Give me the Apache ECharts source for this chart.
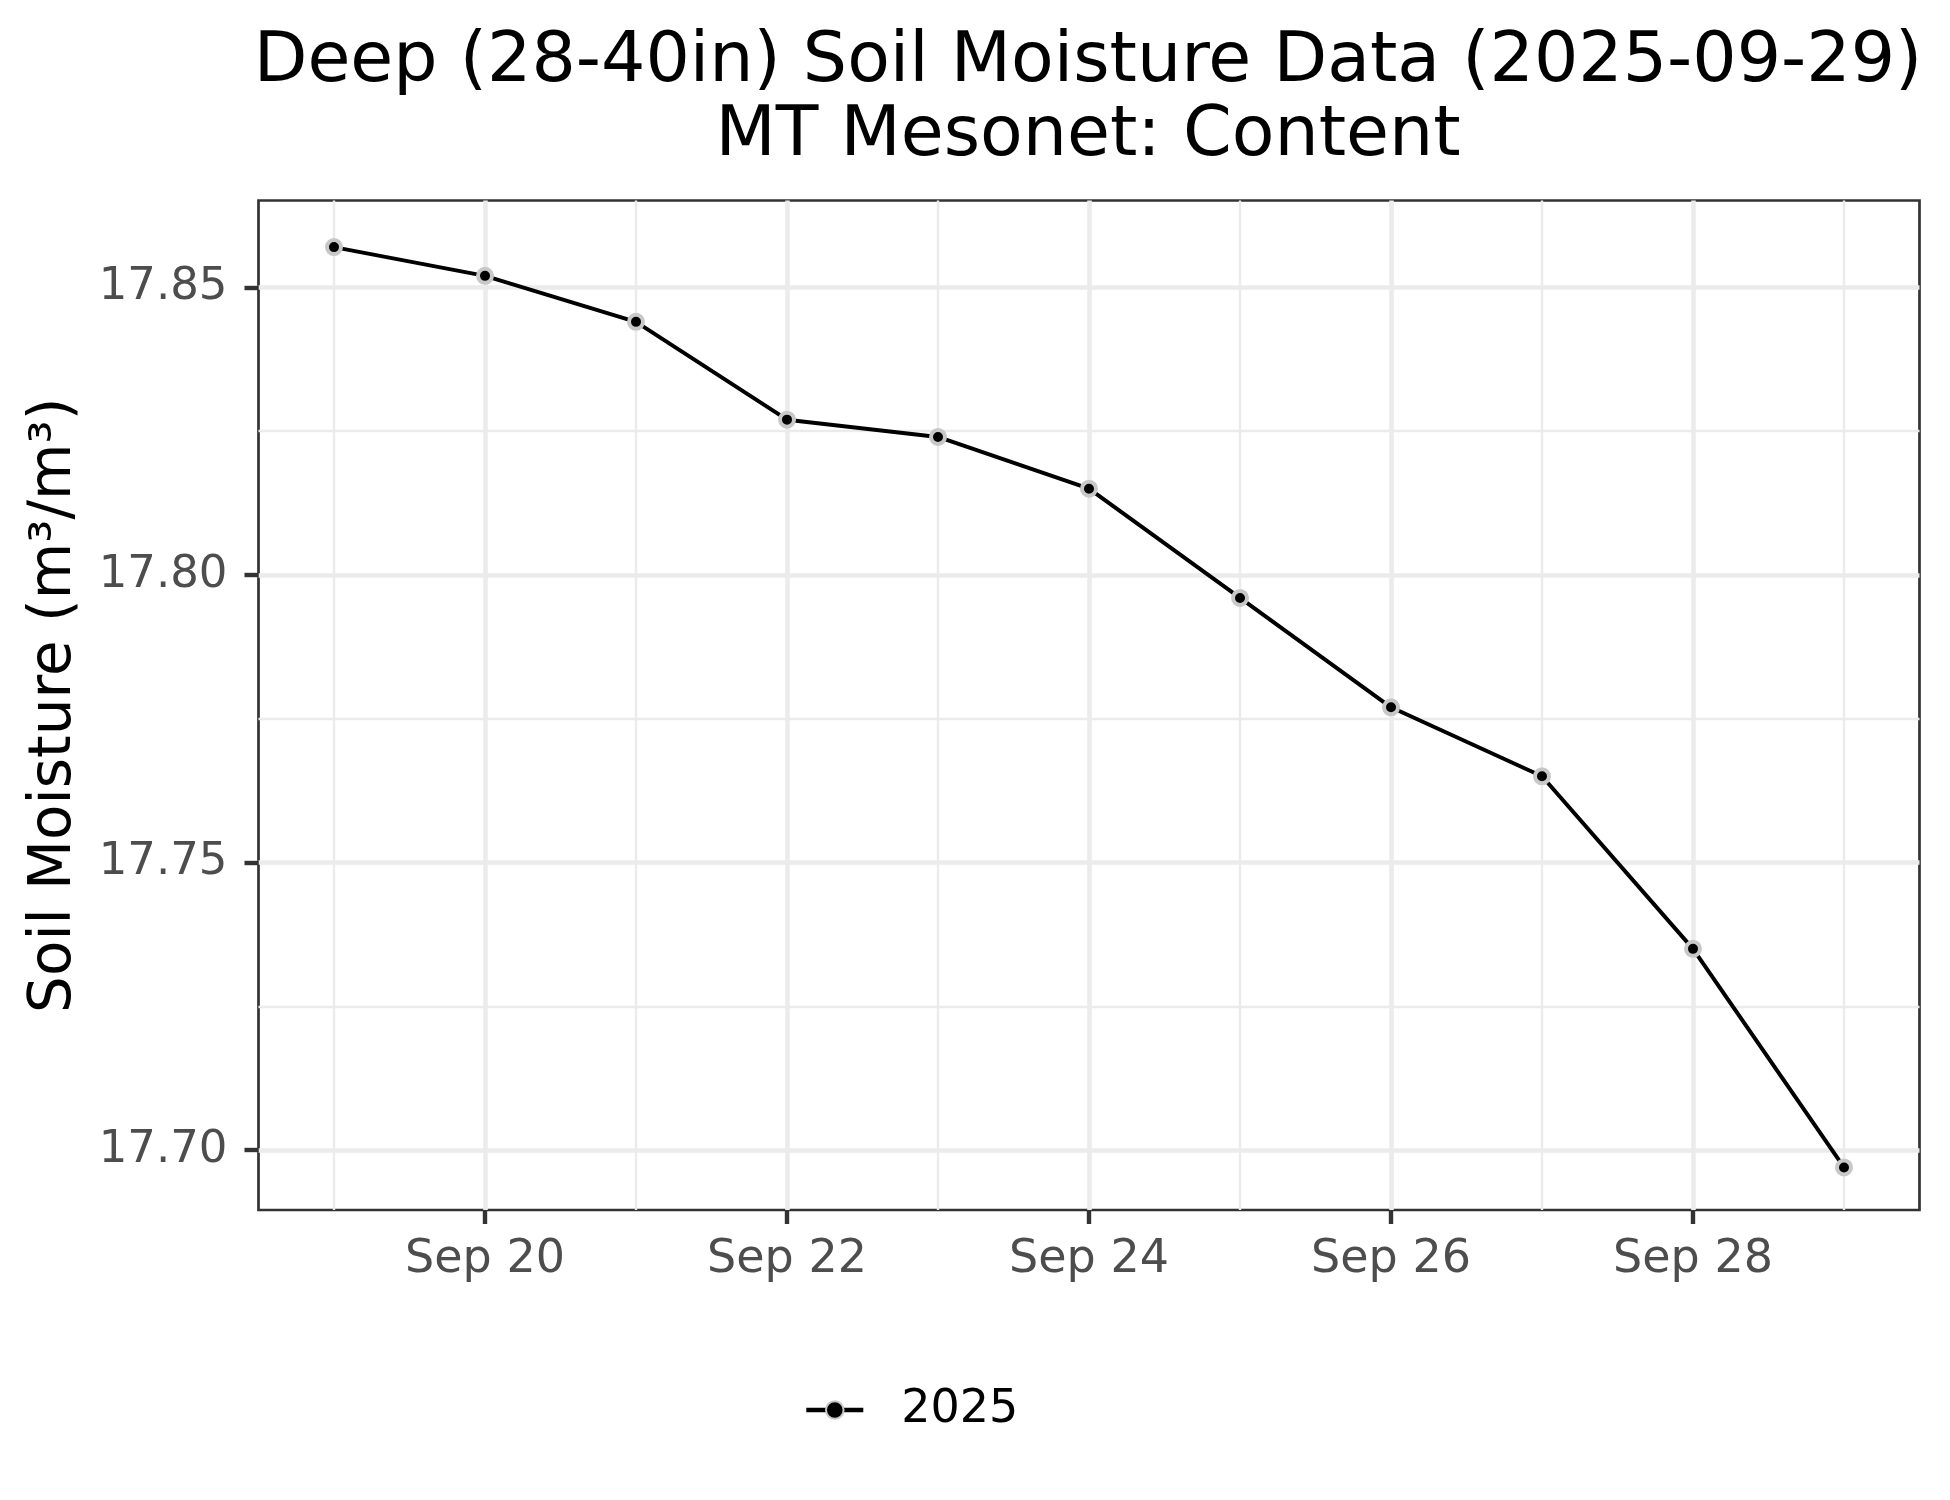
<!DOCTYPE html>
<html>
<head>
<meta charset="utf-8">
<script src="https://cdn.jsdelivr.net/npm/echarts@6/dist/echarts.min.js"></script>
<style>
  html, body { margin: 0; padding: 0; background: #ffffff; }
  #chart { width: 1950px; height: 1500px; }
</style>
</head>
<body>
<div id="chart"></div>
<script>
// ---- data ----
var dates = ['2025-09-19', '2025-09-20', '2025-09-21', '2025-09-22', '2025-09-23', '2025-09-24',
             '2025-09-25', '2025-09-26', '2025-09-27', '2025-09-28', '2025-09-29'];
var moisture = [17.857, 17.852, 17.844, 17.827, 17.824, 17.815, 17.796, 17.777, 17.765, 17.735, 17.697];
var seriesName = '2025';
var xTickDays = [20, 22, 24, 26, 28];
var xTickLabels = ['Sep 20', 'Sep 22', 'Sep 24', 'Sep 26', 'Sep 28'];
var xMinorDays = [19, 21, 23, 25, 27, 29];
var yTickValues = [17.70, 17.75, 17.80, 17.85];
var yTickLabels = ['17.70', '17.75', '17.80', '17.85'];
var yMinorValues = [17.725, 17.775, 17.825];
var titleText = 'Deep (28-40in) Soil Moisture Data (2025-09-29)\nMT Mesonet: Content';
var yAxisTitle = 'Soil Moisture (m\u00b3/m\u00b3)';

// ---- build ----
var points = dates.map(function (d, i) {
  return [parseInt(d.slice(8, 10), 10), moisture[i]];
});
var FONT = 'DejaVu Sans';
var xMin = 18.5, xMax = 29.5;
var yMin = 17.6896, yMax = 17.8651;

function xLabel(v) {
  for (var i = 0; i < xTickDays.length; i++) {
    if (Math.abs(v - xTickDays[i]) < 1e-6) return xTickLabels[i];
  }
  return '';
}
function yLabel(v) {
  for (var i = 0; i < yTickValues.length; i++) {
    if (Math.abs(v - yTickValues[i]) < 1e-6) return yTickLabels[i];
  }
  return '';
}

var chart = echarts.init(document.getElementById('chart'), null, { renderer: 'canvas' });
chart.setOption({
  backgroundColor: '#ffffff',
  animation: false,
  title: {
    text: titleText,
    left: 1083,
    top: 21,
    textAlign: 'center',
    textStyle: { fontFamily: FONT, fontSize: 69.8, fontWeight: 'normal', color: '#000000', lineHeight: 74 }
  },
  grid: {
    left: 258.5, right: 30.5, top: 200.5, bottom: 290,
    show: true, borderColor: '#333333', borderWidth: 2.7, backgroundColor: 'transparent',
    containLabel: false
  },
  legend: {
    data: [seriesName],
    left: 799,
    top: 1382,
    itemWidth: 57,
    itemHeight: 22,
    lineStyle: { width: 4.6 },
    textStyle: { fontFamily: FONT, fontSize: 46, color: '#000000', padding: [0, 0, 0, 33] }
  },
  xAxis: [
    {
      type: 'value', min: xMin, max: xMax, position: 'bottom',
      axisLine: { show: false },
      axisTick: { show: false, customValues: xMinorDays },
      axisLabel: { show: false },
      splitLine: { show: true, lineStyle: { color: '#EBEBEB', width: 2.4 } }
    },
    {
      type: 'value', min: xMin, max: xMax, position: 'bottom',
      axisLine: { show: false },
      axisTick: { show: true, customValues: xTickDays, length: 14, lineStyle: { color: '#333333', width: 4.4 } },
      axisLabel: { show: true, customValues: xTickDays, formatter: xLabel, margin: 27,
                   fontFamily: FONT, fontSize: 46, color: '#4D4D4D' },
      splitLine: { show: true, lineStyle: { color: '#EBEBEB', width: 4.6 } }
    }
  ],
  yAxis: [
    {
      type: 'value', min: yMin, max: yMax, position: 'left',
      axisLine: { show: false },
      axisTick: { show: false, customValues: yMinorValues },
      axisLabel: { show: false },
      splitLine: { show: true, lineStyle: { color: '#EBEBEB', width: 2.4 } }
    },
    {
      type: 'value', min: yMin, max: yMax, position: 'left',
      name: yAxisTitle, nameLocation: 'middle', nameGap: 175,
      nameTextStyle: { fontFamily: FONT, fontSize: 58, color: '#000000' },
      axisLine: { show: false },
      axisTick: { show: true, customValues: yTickValues, length: 14, lineStyle: { color: '#333333', width: 4.4 } },
      axisLabel: { show: true, customValues: yTickValues, formatter: yLabel, margin: 31,
                   fontFamily: FONT, fontSize: 45, color: '#4D4D4D' },
      splitLine: { show: true, lineStyle: { color: '#EBEBEB', width: 4.6 } }
    }
  ],
  series: [
    {
      name: seriesName,
      type: 'line',
      xAxisIndex: 1,
      yAxisIndex: 1,
      data: points,
      symbol: 'circle',
      symbolSize: 14,
      showSymbol: true,
      lineStyle: { color: '#000000', width: 4 },
      itemStyle: { color: '#000000', borderColor: '#C8C8C8', borderWidth: 4 },
      z: 5
    }
  ]
});
</script>
</body>
</html>
